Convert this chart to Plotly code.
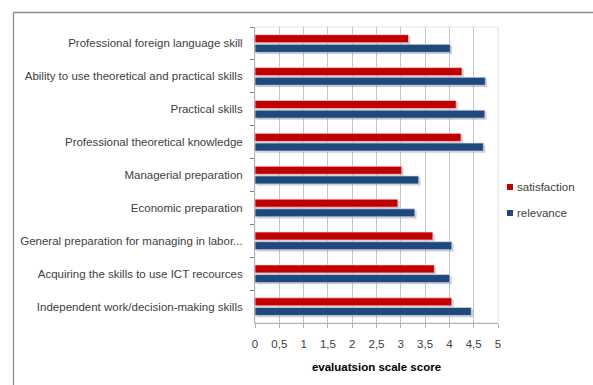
import plotly.graph_objects as go

# Skill categories, listed top to bottom
categories = [
    "Professional foreign language skill",
    "Ability to use theoretical and practical skills",
    "Practical skills",
    "Professional theoretical knowledge",
    "Managerial preparation",
    "Economic preparation",
    "General preparation for managing in labor...",
    "Acquiring the skills to use ICT recources",
    "Independent work/decision-making skills",
]
satisfaction = [3.16, 4.26, 4.14, 4.24, 3.02, 2.94, 3.66, 3.69, 4.05]
relevance = [4.02, 4.74, 4.73, 4.70, 3.37, 3.29, 4.05, 4.01, 4.45]

series_names = ["satisfaction", "relevance"]
RED = "#C00000"
BLUE = "#1F497D"

FONT = "Liberation Sans"
FS = 11.5
W, H = 593, 385
ML, MR, MT, MB = 255, 95, 27, 62
plot_w = W - ML - MR
plot_h = H - MT - MB

BAR_W = 0.245
OFF_RED = -0.266
OFF_BLUE = 0.028

fig = go.Figure()

# soft drop shadows under the bars
for vals, off in [(satisfaction, OFF_RED), (relevance, OFF_BLUE)]:
    fig.add_trace(go.Bar(
        y=categories, x=vals, orientation="h", base=0.035,
        width=BAR_W, offset=off + 0.05,
        marker=dict(color="rgba(90,90,90,0.3)", line=dict(width=0)),
        showlegend=False, hoverinfo="skip",
    ))

fig.add_trace(go.Bar(
    y=categories, x=satisfaction, orientation="h", name=series_names[0],
    width=BAR_W, offset=OFF_RED,
    marker=dict(color=RED, line=dict(color="rgba(255,215,215,0.9)", width=0.8)),
    showlegend=False,
))
fig.add_trace(go.Bar(
    y=categories, x=relevance, orientation="h", name=series_names[1],
    width=BAR_W, offset=OFF_BLUE,
    marker=dict(color=BLUE, line=dict(color="rgba(210,220,240,0.9)", width=0.8)),
    showlegend=False,
))

# legend entries drawn as small swatches with labels
shapes = []
annotations = []
for i, (name, col) in enumerate(zip(series_names, [RED, BLUE])):
    cy = 187 + 26 * i
    shapes.append(dict(type="rect", xref="paper", yref="paper",
                       x0=(507 - ML) / plot_w, x1=(513 - ML) / plot_w,
                       y0=1 - (cy + 3 - MT) / plot_h, y1=1 - (cy - 3 - MT) / plot_h,
                       fillcolor=col, line=dict(width=0)))
    annotations.append(dict(text=name, xref="paper", yref="paper",
                            x=(515 - ML) / plot_w, y=1 - (cy - MT) / plot_h,
                            xanchor="left", yanchor="middle", showarrow=False,
                            font=dict(family=FONT, size=FS, color="#404040")))

# light frame around the plot area
shapes.append(dict(type="rect", xref="paper", yref="paper", x0=0, x1=1, y0=0, y1=1,
                   line=dict(color="#e2e2e2", width=1), layer="below"))
# outer chart border (top and left edges)
top_y = 1 + (MT - 12.5) / plot_h
left_x = (13.5 - ML) / plot_w
shapes.append(dict(type="line", xref="paper", yref="paper",
                   x0=left_x, x1=(W + 5 - ML) / plot_w, y0=top_y, y1=top_y,
                   line=dict(color="#8c8c8c", width=1.3)))
shapes.append(dict(type="line", xref="paper", yref="paper",
                   x0=left_x, x1=left_x, y0=top_y, y1=-(MB + 5) / plot_h,
                   line=dict(color="#8c8c8c", width=1.3)))

fig.update_layout(
    width=W, height=H,
    margin=dict(l=ML, r=MR, t=MT, b=MB),
    barmode="overlay",
    separators=",.",
    paper_bgcolor="white", plot_bgcolor="white",
    font=dict(family=FONT, size=FS, color="#404040"),
    shapes=shapes, annotations=annotations,
    xaxis=dict(
        range=[0, 5], dtick=0.5, tick0=0,
        showgrid=True, gridcolor="#c4c4c4", gridwidth=1,
        showline=True, linecolor="#b0b0b0", linewidth=1,
        ticks="outside", ticklen=4, tickcolor="#b0b0b0",
        ticklabelstandoff=6,
        tickfont=dict(family=FONT, size=FS, color="#404040"),
        title=dict(text="<b>evaluatsion scale score</b>", standoff=14,
                   font=dict(family=FONT, size=11.5, color="#000000")),
        zeroline=False, fixedrange=True,
    ),
    yaxis=dict(
        type="category", categoryorder="array", categoryarray=categories,
        autorange="reversed",
        showline=True, linecolor="#b0b0b0", linewidth=1,
        ticks="outside", ticklen=4, tickcolor="#808080", tickson="boundaries",
        ticklabelstandoff=9,
        tickfont=dict(family=FONT, size=FS, color="#404040"),
        showgrid=False, zeroline=False, fixedrange=True,
    ),
)

fig.write_html("out.html")
